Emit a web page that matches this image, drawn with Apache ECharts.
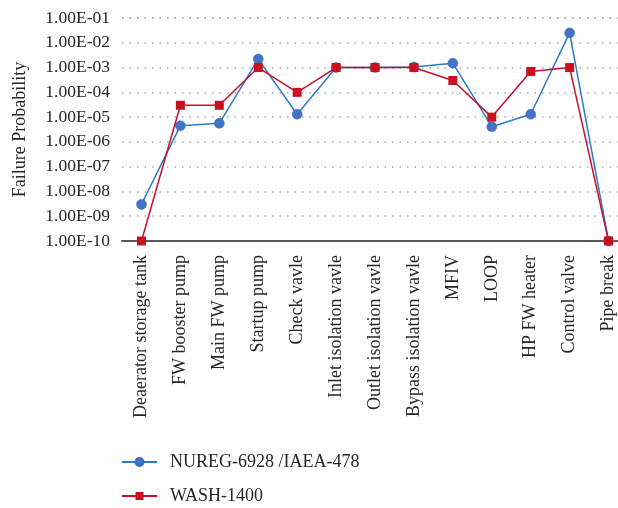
<!DOCTYPE html>
<html>
<head>
<meta charset="utf-8">
<script src="https://cdn.jsdelivr.net/npm/echarts@6/dist/echarts.min.js"></script>
<style>
  html, body { margin: 0; padding: 0; background: #fff; overflow: hidden; }
  #wrap { width: 618px; height: 508px; overflow: hidden; }
  /* plot area runs slightly past the right edge of the page */
  #chart { width: 628px; height: 508px; }
</style>
</head>
<body>
<div id="wrap"><div id="chart"></div></div>
<script>
// Feedwater system components
const components = [
  'Deaerator storage tank', 'FW booster pump', 'Main FW pump', 'Startup pump',
  'Check vavle', 'Inlet isolation vavle', 'Outlet isolation vavle',
  'Bypass isolation vavle', 'MFIV', 'LOOP', 'HP FW heater', 'Control valve', 'Pipe break'
];

// Failure probabilities per data source
const nuregValues = [3e-9, 4.5e-6, 5.6e-6, 2.2e-3, 1.3e-5, 1e-3, 1e-3, 1.05e-3, 1.5e-3, 4.1e-6, 1.3e-5, 2.5e-2, 1e-10];
const washValues  = [1e-10, 3e-5, 3e-5, 1e-3, 1e-4, 1e-3, 1e-3, 1e-3, 3e-4, 1e-5, 7e-4, 1e-3, 1e-10];

const seriesNames = ['NUREG-6928 /IAEA-478', 'WASH-1400'];
const yMin = 1e-10;
const yMax = 1e-1;

const FONT = '"Liberation Serif", "DejaVu Serif", serif';
const TEXT = '#262626';

function sciLabel(v) {
  const exp = Math.round(Math.log10(v));
  const mant = v / Math.pow(10, exp);
  const sign = exp < 0 ? '-' : '+';
  const e = String(Math.abs(exp)).padStart(2, '0');
  return mant.toFixed(2) + 'E' + sign + e;
}

const chart = echarts.init(document.getElementById('chart'), null, { renderer: 'canvas' });
chart.setOption({
  animation: false,
  backgroundColor: '#fff',
  textStyle: { fontFamily: FONT, color: TEXT },
  grid: { left: 122, right: 0, top: 18, bottom: 267, containLabel: false },
  legend: {
    orient: 'vertical',
    left: 121,
    top: 453,
    height: 55,
    itemWidth: 35,
    itemHeight: 10,
    itemGap: 16,
    padding: 0,
    textStyle: { fontFamily: FONT, fontSize: 18, color: TEXT, padding: [0, 0, 0, 8] },
    data: seriesNames
  },
  xAxis: {
    type: 'category',
    data: components,
    boundaryGap: true,
    axisLine: { lineStyle: { color: '#595959', width: 2 } },
    axisTick: { show: false },
    axisLabel: {
      rotate: 90,
      margin: 14,
      interval: 0,
      fontFamily: FONT,
      fontSize: 18,
      color: TEXT
    },
    splitLine: { show: false }
  },
  yAxis: {
    type: 'log',
    logBase: 10,
    min: yMin,
    max: yMax,
    name: 'Failure Probability',
    nameLocation: 'middle',
    nameGap: 93,
    nameTextStyle: { fontFamily: FONT, fontSize: 18, color: TEXT },
    axisLine: { show: false },
    axisTick: { show: false },
    axisLabel: {
      formatter: sciLabel,
      fontFamily: FONT,
      fontSize: 17.5,
      color: TEXT,
      margin: 12
    },
    splitLine: {
      show: true,
      lineStyle: { color: '#a6a6a6', width: 1.5, type: [1.5, 6] }
    }
  },
  series: [
    {
      name: seriesNames[0],
      type: 'line',
      data: nuregValues,
      symbol: 'circle',
      symbolSize: 10,
      lineStyle: { color: '#2e7bc4', width: 1.5 },
      itemStyle: { color: '#4472c4', borderColor: '#3a6cc0', borderWidth: 0.5 },
      z: 2
    },
    {
      name: seriesNames[1],
      type: 'line',
      data: washValues,
      symbol: 'rect',
      symbolSize: 9,
      lineStyle: { color: '#c8102e', width: 1.5 },
      itemStyle: { color: '#c8101e' },
      z: 3
    }
  ]
});
</script>
</body>
</html>
